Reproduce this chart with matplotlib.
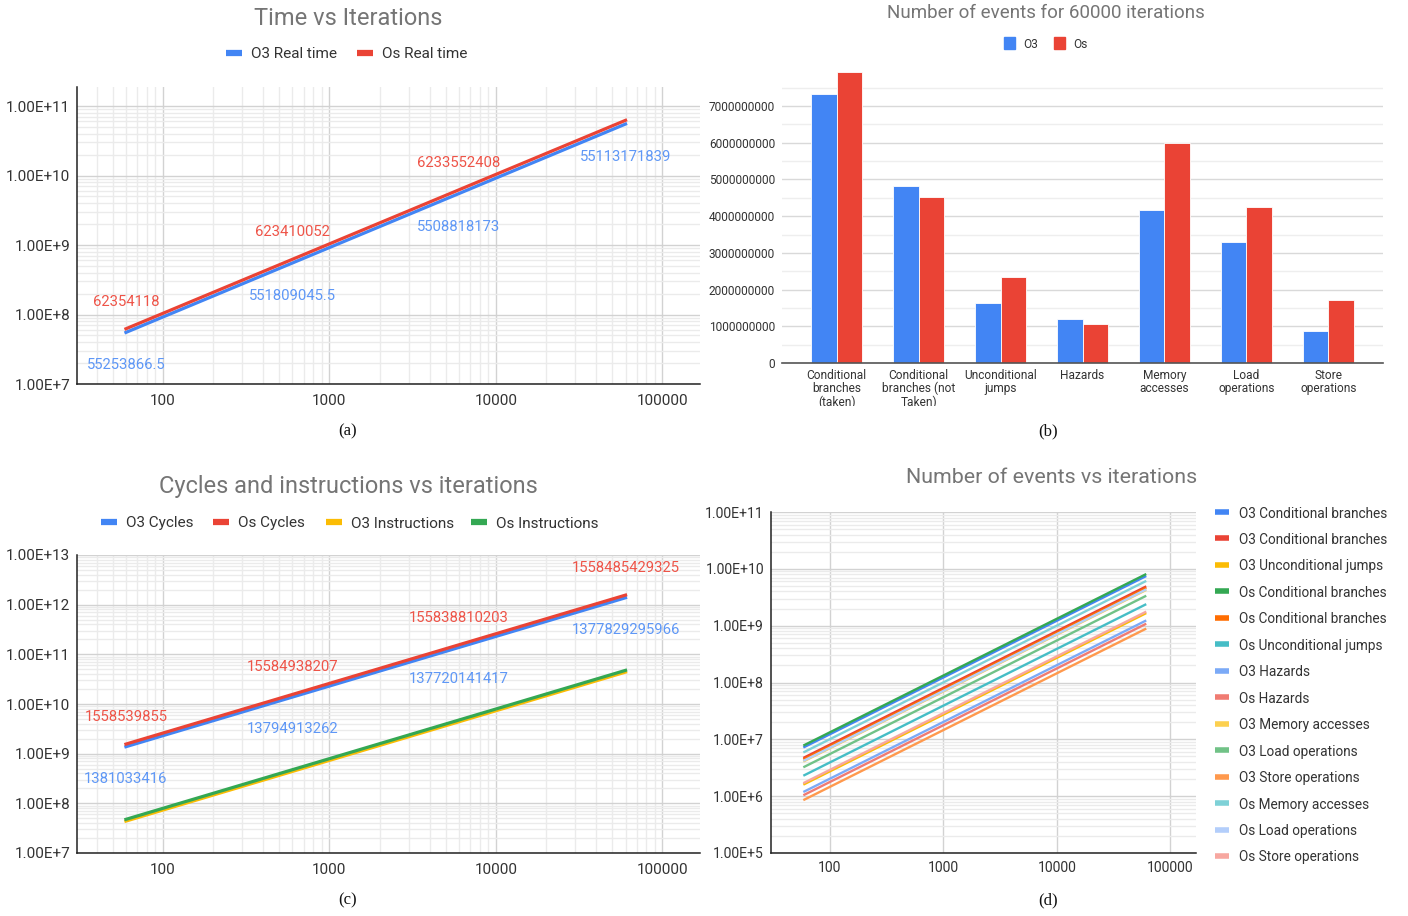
import numpy as np
import matplotlib
matplotlib.use("Agg")
import matplotlib.pyplot as plt
from matplotlib.lines import Line2D
from matplotlib.patches import Rectangle
from matplotlib.ticker import FixedLocator, FuncFormatter, LogLocator, NullFormatter, NullLocator
from matplotlib.transforms import Bbox, TransformedBbox

plt.rcParams["font.family"] = ["Roboto", "DejaVu Sans"]

# ---------------------------------------------------------------- data
iterations = [60, 600, 6000, 60000]

o3_real_time = [55253866.5, 551809045.5, 5508818173, 55113171839]
os_real_time = [62354118, 623410052, 6233552408, 62335524080]

o3_cycles = [1381033416, 13794913262, 137720141417, 1377829295966]
os_cycles = [1558539855, 15584938207, 155838810203, 1558485429325]
o3_instructions = [43900000, 439200000, 4391000000, 43900000000]
os_instructions = [47600000, 476100000, 4760500000, 47600000000]

categories = ["Conditional\nbranches\n(taken)", "Conditional\nbranches (not\nTaken)",
              "Unconditional\njumps", "Hazards", "Memory\naccesses",
              "Load\noperations", "Store\noperations"]
o3_events_60000 = [7.32e9, 4.81e9, 1.63e9, 1.21e9, 4.16e9, 3.29e9, 0.87e9]
os_events_60000 = [7.93e9, 4.52e9, 2.34e9, 1.06e9, 6.00e9, 4.26e9, 1.73e9]

o3_cond_taken = [7.33e6, 7.33e7, 7.33e8, 7.32e9]
o3_cond_not_taken = [4.81e6, 4.81e7, 4.81e8, 4.81e9]
o3_uncond_jumps = [1.63e6, 1.63e7, 1.63e8, 1.63e9]
os_cond_taken = [7.93e6, 7.93e7, 7.93e8, 7.93e9]
os_cond_not_taken = [4.52e6, 4.52e7, 4.52e8, 4.52e9]
os_uncond_jumps = [2.34e6, 2.34e7, 2.34e8, 2.34e9]
o3_hazards = [1.21e6, 1.21e7, 1.21e8, 1.21e9]
os_hazards = [1.06e6, 1.06e7, 1.06e8, 1.06e9]
o3_memory = [4.16e6, 4.16e7, 4.16e8, 4.16e9]
o3_load = [3.29e6, 3.29e7, 3.29e8, 3.29e9]
o3_store = [0.87e6, 0.87e7, 0.87e8, 0.87e9]
os_memory = [6.00e6, 6.00e7, 6.00e8, 6.00e9]
os_load = [4.26e6, 4.26e7, 4.26e8, 4.26e9]
os_store = [1.73e6, 1.73e7, 1.73e8, 1.73e9]

event_labels = ["O3 Conditional branches", "O3 Conditional branches", "O3 Unconditional jumps",
                "Os Conditional branches", "Os Conditional branches", "Os Unconditional jumps",
                "O3 Hazards", "Os Hazards", "O3 Memory accesses", "O3 Load operations",
                "O3 Store operations", "Os Memory accesses", "Os Load operations",
                "Os Store operations"]
event_series = [o3_cond_taken, o3_cond_not_taken, o3_uncond_jumps, os_cond_taken,
                os_cond_not_taken, os_uncond_jumps, o3_hazards, os_hazards, o3_memory,
                o3_load, o3_store, os_memory, os_load, os_store]

# ---------------------------------------------------------------- style
BLUE, RED, YELLOW, GREEN = "#4285F4", "#EA4335", "#FBBC04", "#34A853"
event_colors = ["#4285F4", "#EA4335", "#FBBC04", "#34A853", "#FF6D01", "#46BDC6",
                "#7BAAF7", "#F07B72", "#FCD04F", "#71C287", "#FF994D", "#7ED1D7",
                "#B3CEFB", "#F7A7A0"]
LBL_BLUE, LBL_RED = "#5E97F6", "#EE5448"
TITLE_C, TEXT_C = "#757575", "#333333"

W, H = 1408, 916
fig = plt.figure(figsize=(W / 100, H / 100), dpi=100)


def px_rect(l, t, r, b):
    return [l / W, 1 - b / H, (r - l) / W, (b - t) / H]


def ftext(x, y, s, **kw):
    # small downward nudge so the visual centre of the glyphs sits on y
    return fig.text(x / W, 1 - (y + 1.5) / H, s, ha=kw.pop("ha", "center"),
                    va=kw.pop("va", "center"), **kw)


def line_key(x, y, color, label, size=11, lw=4.5, length=16, gap=9):
    fig.add_artist(Line2D([x / W, (x + length) / W], [1 - y / H, 1 - y / H], color=color,
                          lw=lw, solid_capstyle="butt", transform=fig.transFigure))
    ftext(x + length + gap, y, label, ha="left", fontsize=size, color=TEXT_C)


def box_key(x, y, color, label, size=8.6, w=11, h=12, gap=8):
    fig.add_artist(Rectangle((x / W, 1 - (y + h / 2) / H), w / W, h / H, color=color,
                             transform=fig.transFigure))
    ftext(x + w + gap, y, label, ha="left", fontsize=size, color=TEXT_C)


def log_axes(rect, ylim, xminor=True, size=11):
    ax = fig.add_axes(rect)
    ax.set_xscale("log")
    ax.set_yscale("log")
    ax.set_xlim(30.5, 168000)
    ax.set_ylim(*ylim)
    ax.xaxis.set_major_locator(FixedLocator([100, 1000, 10000, 100000]))
    ax.xaxis.set_major_formatter(FuncFormatter(lambda v, p: f"{int(round(v))}"))
    if xminor:
        ax.xaxis.set_minor_locator(LogLocator(base=10, subs=range(2, 10), numticks=20))
    else:
        ax.xaxis.set_minor_locator(NullLocator())
    ax.xaxis.set_minor_formatter(NullFormatter())
    ax.yaxis.set_major_locator(LogLocator(base=10, numticks=20))
    ax.yaxis.set_major_formatter(FuncFormatter(lambda v, p: f"1.00E+{int(round(np.log10(v)))}"))
    ax.yaxis.set_minor_locator(LogLocator(base=10, subs=range(2, 10), numticks=20))
    ax.yaxis.set_minor_formatter(NullFormatter())
    ax.grid(which="major", color="#d2d2d2", lw=1.0)
    ax.grid(which="minor", color="#ebebeb", lw=1.0)
    ax.tick_params(which="both", length=0, labelsize=size, labelcolor=TEXT_C)
    ax.tick_params(axis="y", pad=5)
    ax.tick_params(axis="x", pad=7)
    for s in ("top", "right"):
        ax.spines[s].set_visible(False)
    for s in ("left", "bottom"):
        ax.spines[s].set_color("#222222")
        ax.spines[s].set_linewidth(1.1)
    return ax


def fmt_value(v):
    v = float(v)
    return f"{int(v)}" if v.is_integer() else f"{v:.1f}"


def value_labels(ax, xs, ys, color, dy):
    for x, y in zip(xs, ys):
        ax.annotate(fmt_value(y), (x, y), xytext=(0, dy), textcoords="offset pixels",
                    ha="center", va="center", fontsize=10.7, color=color)


# ---------------------------------------------------------------- (a)
ax_a = log_axes(px_rect(77, 87, 700, 384), (1e7, 1.88e11))
ax_a.plot(iterations, o3_real_time, color=BLUE, lw=2.3)
ax_a.plot(iterations, os_real_time, color=RED, lw=2.3)
value_labels(ax_a, iterations, o3_real_time, LBL_BLUE, -33)
value_labels(ax_a, iterations[:3], os_real_time[:3], LBL_RED, 27)
ftext(348, 17, "Time vs Iterations", fontsize=17, color=TITLE_C)
line_key(226, 53, BLUE, "O3 Real time")
line_key(357, 53, RED, "Os Real time")

# ---------------------------------------------------------------- (c)
ax_c = log_axes(px_rect(77, 555, 700, 853), (1e7, 1e13))
ax_c.plot(iterations, o3_cycles, color=BLUE, lw=2.3)
ax_c.plot(iterations, os_cycles, color=RED, lw=2.3)
ax_c.plot(iterations, o3_instructions, color=YELLOW, lw=2.3)
ax_c.plot(iterations, os_instructions, color=GREEN, lw=2.3)
value_labels(ax_c, iterations, o3_cycles, LBL_BLUE, -32)
value_labels(ax_c, iterations, os_cycles, LBL_RED, 27)
ftext(348, 485, "Cycles and instructions vs iterations", fontsize=17, color=TITLE_C)
line_key(101, 522, BLUE, "O3 Cycles")
line_key(213, 522, RED, "Os Cycles")
line_key(326, 522, YELLOW, "O3 Instructions")
line_key(471, 522, GREEN, "Os Instructions")

# ---------------------------------------------------------------- (d)
ax_d = log_axes(px_rect(771, 512, 1196, 853), (1e5, 1e11), xminor=False, size=10.1)
ax_d.tick_params(axis="x", pad=6)
for vals, col in zip(event_series, event_colors):
    ax_d.plot(iterations, vals, color=col, lw=1.7)
ftext(1052, 476, "Number of events vs iterations", fontsize=15.4, color=TITLE_C)
for i, (lab, col) in enumerate(zip(event_labels, event_colors)):
    line_key(1215, 512 + i * 26.46, col, lab, size=9.8, lw=4, length=14, gap=10)

# ---------------------------------------------------------------- (b)
zero_y, per_bn = 363, 36.7
ax_b = fig.add_axes(px_rect(782, zero_y - 8 * per_bn, 1383, zero_y))
xpos = np.arange(len(categories))
bw = 0.315
ax_b.bar(xpos - bw / 2, o3_events_60000, bw, color=BLUE, edgecolor="white", lw=0.6, zorder=3, clip_on=False)
ax_b.bar(xpos + bw / 2, os_events_60000, bw, color=RED, edgecolor="white", lw=0.6, zorder=3, clip_on=False)
ax_b.set_xlim(-0.666, len(categories) - 1 + 0.666)
ax_b.set_ylim(0, 8e9)
ax_b.yaxis.set_major_locator(FixedLocator(np.arange(0, 7.01e9, 1e9)))
ax_b.yaxis.set_minor_locator(FixedLocator(np.arange(0.5e9, 7.51e9, 1e9)))
ax_b.yaxis.set_major_formatter(FuncFormatter(lambda v, p: f"{int(round(v))}"))
ax_b.grid(axis="y", which="major", color="#d9d9d9", lw=1.0, zorder=0)
ax_b.grid(axis="y", which="minor", color="#eeeeee", lw=1.0, zorder=0)
ax_b.set_axisbelow(True)
ax_b.set_xticks(xpos)
ax_b.set_xticklabels(categories, linespacing=1.05)
ax_b.tick_params(which="both", length=0, labelsize=8.6, labelcolor=TEXT_C)
ax_b.tick_params(axis="y", pad=5)
ax_b.tick_params(axis="x", pad=4)
for s in ("top", "right", "left"):
    ax_b.spines[s].set_visible(False)
ax_b.spines["bottom"].set_color("#555555")
ax_b.spines["bottom"].set_linewidth(1.2)
ax_b.spines["bottom"].set_zorder(4)
clip = TransformedBbox(Bbox.from_extents(0, (H - 406) / H, 1, 1), fig.transFigure)
for lab in ax_b.get_xticklabels():
    lab.set_clip_box(clip)
    lab.set_clip_on(True)
ftext(1046, 11, "Number of events for 60000 iterations", fontsize=13.5, color=TITLE_C)
box_key(1004, 43, BLUE, "O3")
box_key(1054, 43, RED, "Os")

# ---------------------------------------------------------------- captions
for x, y, s in [(348, 430, "(a)"), (1048, 430, "(b)"), (348, 899, "(c)"), (1048, 899, "(d)")]:
    ftext(x, y, s, fontsize=12, color="#111111", family=["Liberation Serif", "DejaVu Serif"])

fig.savefig("out.png", dpi=100, facecolor="white")
